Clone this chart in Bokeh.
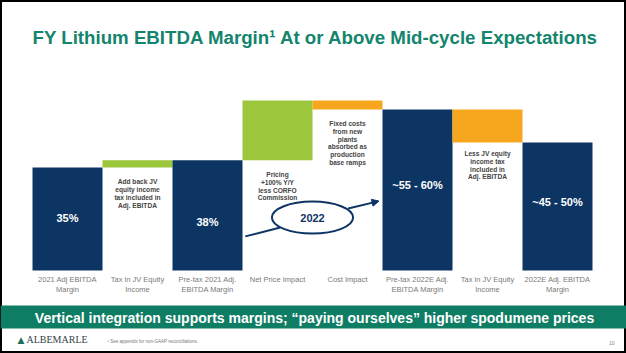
from bokeh.plotting import figure
from bokeh.models import Range1d, Label, ColumnDataSource, Arrow, NormalHead
from bokeh.core.properties import value
from bokeh.embed import file_html
from bokeh.resources import INLINE

# ---- data ----
categories = ["2021 Adj EBITDA\nMargin", "Tax in JV Equity\nIncome", "Pre-tax 2021 Adj.\nEBITDA Margin",
              "Net Price Impact", "Cost Impact", "Pre-tax 2022E Adj.\nEBITDA Margin",
              "Tax in JV Equity\nIncome", "2022E Adj. EBITDA\nMargin"]
kinds = ["total", "delta", "total", "delta", "delta", "total", "delta", "total"]
steps = [35.0, 2.5, 0, 20.3, -3.0, 0, -11.3, 0]
bar_labels = ["35%", "", "38%", "", "", "~55 - 60%", "", "~45 - 50%"]
notes = ["", "Add back JV\nequity income\ntax included in\nAdj. EBITDA", "",
         "Pricing\n+100% Y/Y\nless CORFO\nCommission", "Fixed costs\nfrom new\nplants\nabsorbed as\nproduction\nbase ramps",
         "", "Less JV equity\nincome tax\nincluded in\nAdj. EBITDA", ""]
title_text = "FY Lithium EBITDA Margin\u00b9 At or Above Mid-cycle Expectations"
band_text = "Vertical integration supports margins; \u201cpaying ourselves\u201d higher spodumene prices"
footnote = "\u00b9 See appendix for non-GAAP reconciliations."
page_no = "10"
ellipse_text = "2022"

NAVY = "#0D3563"
GREEN = "#9CC63B"
ORANGE = "#F6A71E"
TEAL = "#0F7C64"
TITLE_C = "#13846D"

W, H = 626, 353
PX_X = 70.0      # pixels per category
X0 = 67.0        # pixel center of first bar
PX_Y = 2.94      # pixels per percentage point
Y0 = 270.0       # pixel row of zero

p = figure(width=W, height=H, output_backend="svg", toolbar_location=None,
           x_axis_type=None, y_axis_type=None, min_border=0,
           x_range=Range1d(-X0 / PX_X, (W - X0) / PX_X),
           y_range=Range1d(-(H - Y0) / PX_Y, Y0 / PX_Y))
p.xgrid.visible = False
p.ygrid.visible = False
p.outline_line_color = "black"
p.outline_line_width = 3
p.background_fill_color = "white"
p.border_fill_color = "white"

# waterfall computation
xs, bottoms, tops, colors, mids = [], [], [], [], []
level = 0.0
for i, (k, s) in enumerate(zip(kinds, steps)):
    if k == "total":
        if i == 0:
            level = s
        b, t, c = 0.0, level, NAVY
    else:
        b, t = (level, level + s) if s >= 0 else (level + s, level)
        c = GREEN if s >= 0 else ORANGE
        level += s
    xs.append(i); bottoms.append(b); tops.append(t); colors.append(c); mids.append((b + t) / 2)

# value labels sit a little off the bar middle, as in the slide
lab_shift = [0.5, 0, -2.3, 0, 0, 1.7, 0, 1.6]
lab_y = [m + d for m, d in zip(mids, lab_shift)]

src = ColumnDataSource(dict(x=xs, bottom=bottoms, top=tops, color=colors, laby=lab_y,
                            lab=bar_labels, cat=categories, note=notes))
p.vbar(x="x", bottom="bottom", top="top", width=1.0, fill_color="color", line_color=None, source=src)

# value labels in bars
p.text(x="x", y="laby", text="lab", source=src, text_color="white", text_font=value("Liberation Sans"),
       text_font_style="bold", text_font_size="11px", text_align="center", text_baseline="middle")

# category labels
p.text(x="x", y=-1.6, text="cat", source=src, text_color="#7a7a7a", text_font=value("Liberation Sans"),
       text_font_size="7.5px", text_align="center", text_baseline="top", text_line_height=1.1)

# notes under delta bars
note_x, note_y, note_t = [], [], []
for i, k in enumerate(kinds):
    if notes[i]:
        note_x.append(i)
        note_y.append(bottoms[i] - (2.5 if i == 6 else 3.6))
        note_t.append(notes[i])
p.text(x=note_x, y=note_y, text=note_t, text_color="#444444", text_font=value("Liberation Sans"),
       text_font_style="bold", text_font_size="6.6px", text_align="center", text_baseline="top",
       text_line_height=1.12)

# ellipse "2022" with arrows
p.ellipse(x=[3.5], y=[18.0], width=[1.16], height=[10.9], fill_color="white", line_color=NAVY, line_width=2)
p.text(x=[3.5], y=[18.0], text=[ellipse_text], text_color=NAVY, text_font=value("Liberation Sans"),
       text_font_style="bold", text_font_size="11px", text_align="center", text_baseline="middle")
p.segment(x0=[2.54], y0=[11.6], x1=[3.04], y1=[14.6], line_color=NAVY, line_width=2)
p.add_layout(Arrow(x_start=4.01, y_start=21.1, x_end=4.45, y_end=23.6, line_color=NAVY, line_width=2,
                   end=NormalHead(size=7, fill_color=NAVY, line_color=NAVY)))

# title
p.add_layout(Label(x=32, y=H - 37, x_units="screen", y_units="screen", text=title_text,
                   text_color=TITLE_C, text_font="Liberation Sans", text_font_style="bold",
                   text_font_size="18.7px", text_baseline="middle"))

# green band
p.block(x=[-X0 / PX_X], y=[-(328 - Y0) / PX_Y], width=[W / PX_X],
        height=[(328 - 305) / PX_Y], fill_color=TEAL, line_color=None)
p.add_layout(Label(x=314, y=H - 317, x_units="screen", y_units="screen", text=band_text,
                   text_color="white", text_font="Liberation Sans", text_font_style="bold",
                   text_font_size="14px", text_align="center", text_baseline="middle"))

# footer
p.add_layout(Label(x=17, y=H - 339, x_units="screen", y_units="screen", text="\u25b2",
                   text_color="#1d6e5c", text_font="DejaVu Sans", text_font_size="9px",
                   text_baseline="middle"))
p.add_layout(Label(x=26, y=H - 339, x_units="screen", y_units="screen", text="ALBEMARLE",
                   text_color="#33434a", text_font="Liberation Serif", text_font_size="10px",
                   text_baseline="middle"))
p.add_layout(Label(x=107, y=H - 341, x_units="screen", y_units="screen", text=footnote,
                   text_color="#777777", text_font="Liberation Sans", text_font_size="4.5px",
                   text_baseline="middle"))
p.add_layout(Label(x=614, y=H - 342, x_units="screen", y_units="screen", text=page_no,
                   text_color="#888888", text_font="Liberation Sans", text_font_size="5px",
                   text_align="right", text_baseline="middle"))

open("out.html", "w").write(file_html(p, INLINE))
